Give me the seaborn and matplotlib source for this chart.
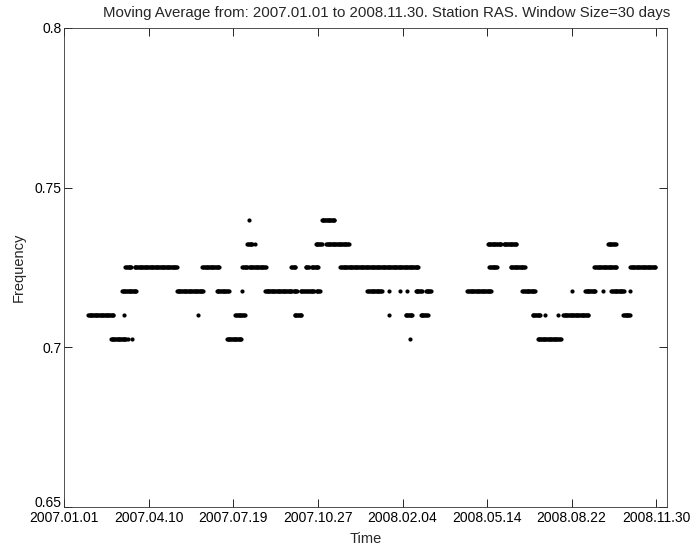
import numpy as np
import pandas as pd
import matplotlib
matplotlib.use("Agg")
import matplotlib.pyplot as plt
import seaborn as sns

# Run-length data: level, first day, last day (days since 2007.01.01)
seg_level = [0.71, 0.7025, 0.71, 0.7175, 0.725, 0.7025, 0.7025, 0.725, 0.7175, 0.71,
             0.725, 0.7175, 0.7025, 0.71, 0.7175, 0.725, 0.7325, 0.74, 0.725, 0.7325,
             0.7175, 0.725, 0.71, 0.7175, 0.7175, 0.7175, 0.7175, 0.725, 0.725, 0.725,
             0.7325, 0.74, 0.7325, 0.725, 0.7175, 0.7175, 0.7175, 0.7175, 0.71, 0.71,
             0.7025, 0.7175, 0.71, 0.7175,
             0.7175, 0.725, 0.7325, 0.7325, 0.725, 0.725, 0.7175, 0.71, 0.7025, 0.71,
             0.71, 0.71, 0.7175, 0.7175, 0.725, 0.7175, 0.7325, 0.7175, 0.71, 0.7175, 0.725]
seg_start = [28, 55, 70, 68, 72, 75, 80, 83, 133, 158,
             163, 180, 192, 202, 210, 210, 216, 218, 218, 225,
             237, 268, 272, 271, 279, 287, 298, 285, 292, 297,
             297, 304, 309, 326, 358, 384, 396, 405, 384, 403,
             408, 415, 421, 427,
             476, 502, 500, 519, 527, 528, 541, 553, 559, 568,
             583, 589, 599, 615, 626, 636, 642, 646, 660, 668, 668]
seg_end = [58, 73, 70, 85, 79, 75, 80, 133, 164, 158,
           183, 194, 209, 213, 210, 216, 222, 218, 238, 225,
           269, 273, 280, 275, 285, 295, 302, 289, 296, 300,
           304, 319, 336, 418, 375, 384, 396, 405, 384, 411,
           408, 422, 429, 433,
           504, 511, 516, 534, 527, 544, 556, 562, 586, 568,
           583, 619, 599, 627, 652, 636, 651, 661, 668, 668, 698]

tick_labels = ["2007.01.01", "2007.04.10", "2007.07.19", "2007.10.27",
               "2008.02.04", "2008.05.14", "2008.08.22", "2008.11.30"]
total_days = 699
y_ticks = [0.65, 0.7, 0.75, 0.8]
y_tick_labels = ["0.65", "0.7", "0.75", "0.8"]

rows = []
for lv, s, e in zip(seg_level, seg_start, seg_end):
    for d in range(s, e + 1):
        rows.append((d, lv))
df = pd.DataFrame(rows, columns=["day", "freq"])

sns.set_style("white")
plt.rcParams["font.family"] = ["Liberation Sans", "DejaVu Sans"]

fig = plt.figure(figsize=(6.93, 5.5), dpi=100)
ax = fig.add_axes([0.0928, 0.0782, 0.870, 0.871])
sns.scatterplot(data=df, x="day", y="freq", ax=ax, color="black", s=9,
                linewidth=0, marker="o", legend=False)

ax.set_xlim(0, 712)
ax.set_ylim(0.65, 0.8)
ax.set_xticks(np.linspace(0, total_days, len(tick_labels)))
ax.set_xticklabels(tick_labels, fontsize=10)
ax.set_yticks(y_ticks)
ax.set_yticklabels(y_tick_labels, fontsize=10)
ax.tick_params(direction="in", length=6, width=0.6, top=True, right=True,
               bottom=True, left=True, pad=2, colors="black")
ax.tick_params(axis="x", pad=3)
ax.get_yticklabels()[0].set_verticalalignment("baseline")
for sp in ax.spines.values():
    sp.set_visible(True)
    sp.set_color("#333333")
    sp.set_linewidth(0.6)
ax.set_xlabel("Time", fontsize=10.5, labelpad=5)
ax.set_ylabel("Frequency", fontsize=10.5, labelpad=6)
ax.set_title("Moving Average from: 2007.01.01 to 2008.11.30. Station RAS. Window Size=30 days",
             fontsize=10.8, pad=8, x=0.534)

fig.savefig("out.png", dpi=100)
